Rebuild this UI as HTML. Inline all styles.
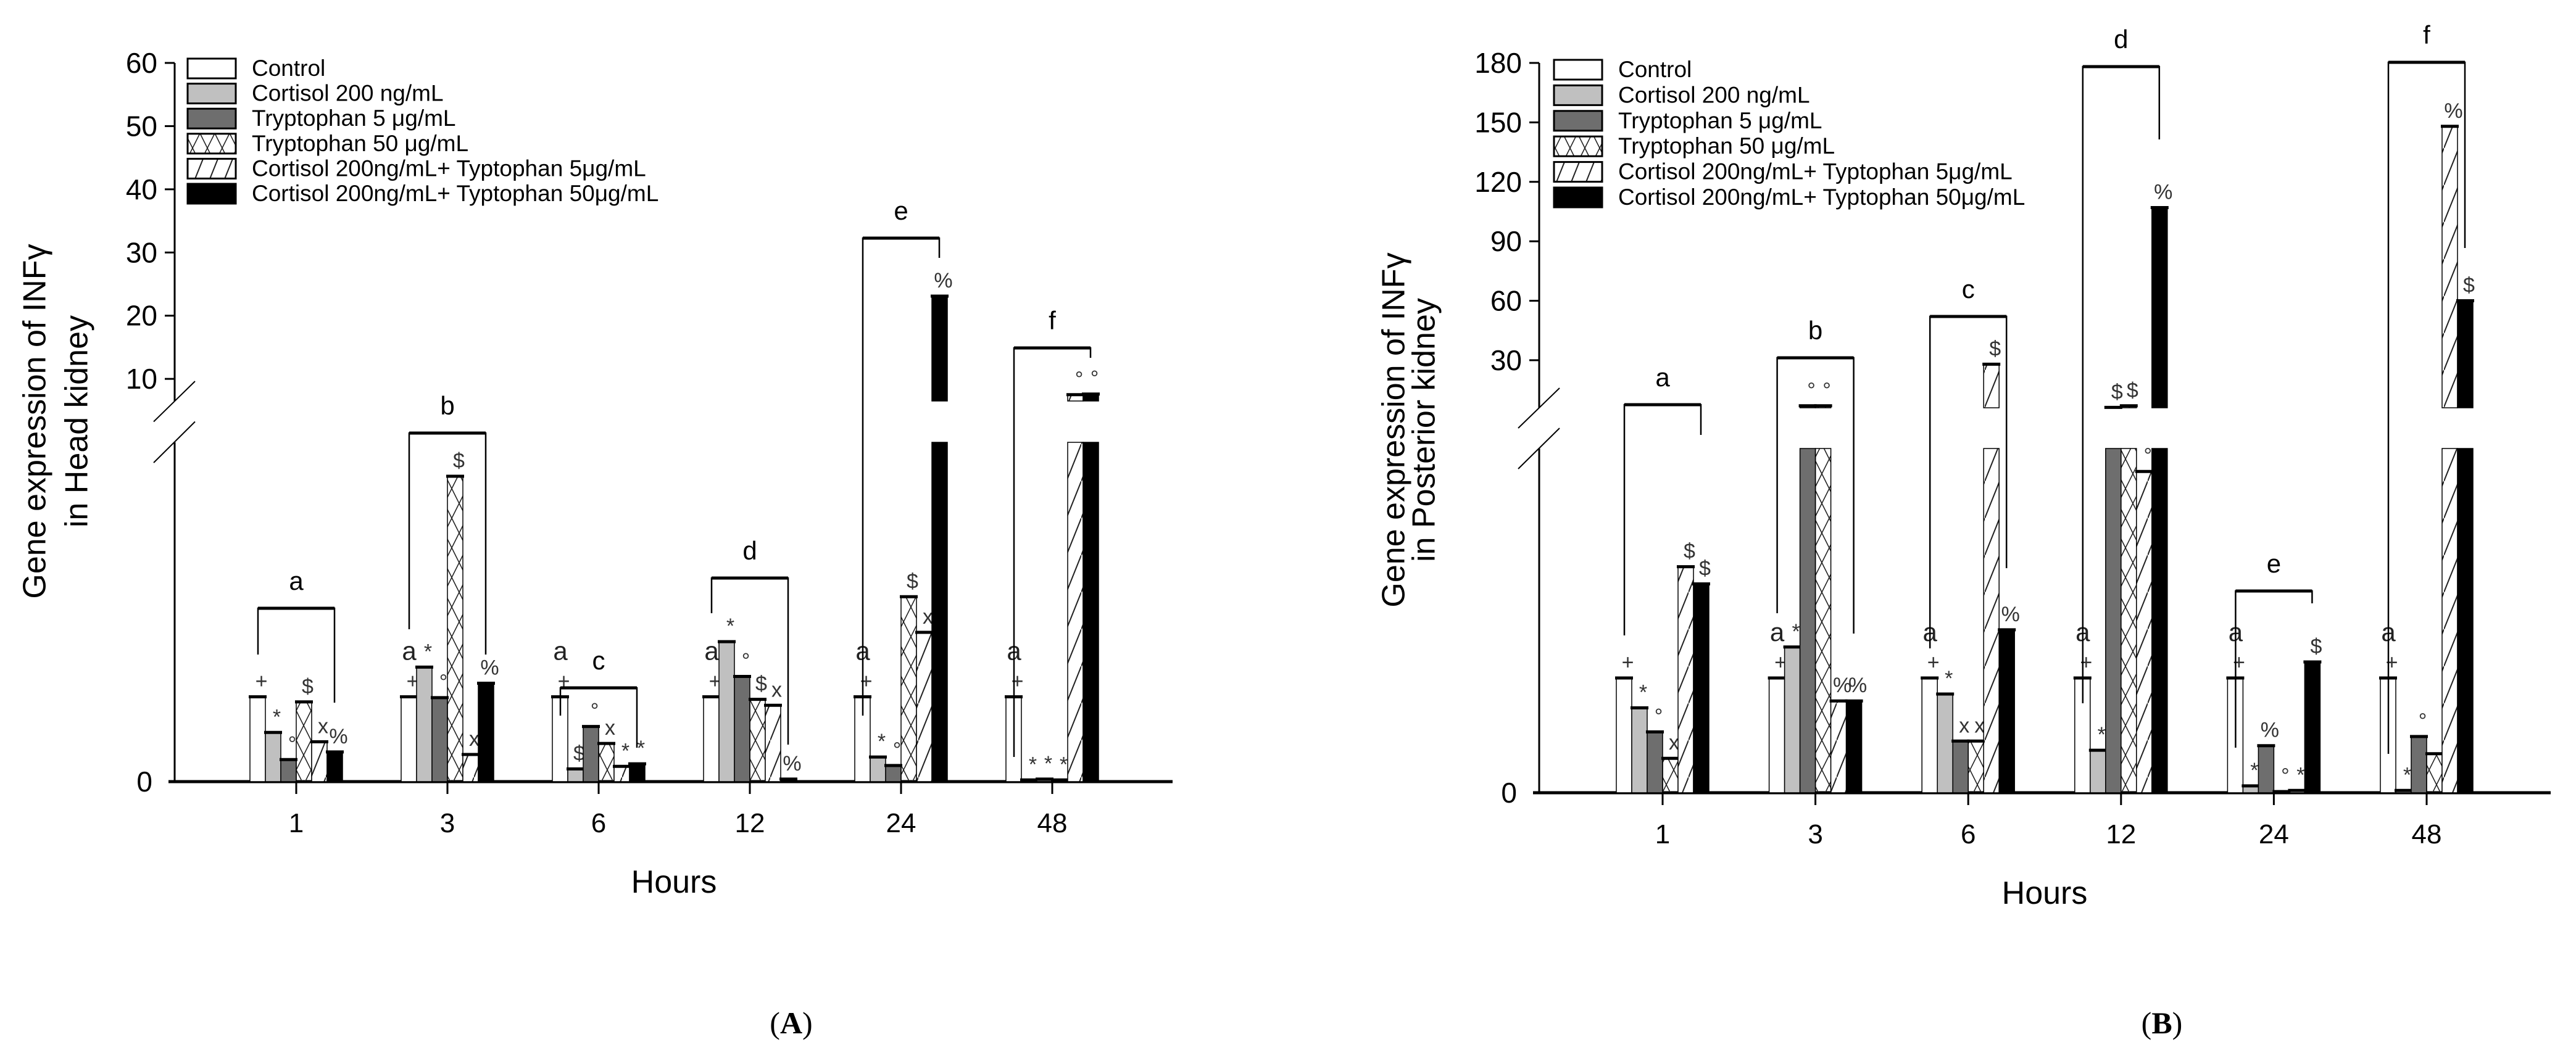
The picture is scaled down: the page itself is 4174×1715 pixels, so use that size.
<!DOCTYPE html>
<html><head><meta charset="utf-8"><style>
html,body{margin:0;padding:0;background:#fff;}
svg{display:block;font-family:"Liberation Sans",Arial,sans-serif;}
</style></head><body>
<svg id="chart" width="4174" height="1715" viewBox="0 0 4174 1715" xmlns="http://www.w3.org/2000/svg">
<defs>
<pattern id="xh" patternUnits="userSpaceOnUse" width="24" height="48">
<path d="M0,0 L24,48 M24,0 L0,48" stroke="#222" stroke-width="1.6" fill="none"/>
</pattern>
<pattern id="dh" patternUnits="userSpaceOnUse" width="24" height="60">
<rect width="24" height="60" fill="#fff"/>
<path d="M0,60 L24,0" stroke="#222" stroke-width="2" fill="none"/>
</pattern>
</defs>
</svg>
<script>
const categories=['1','3','6','12','24','48'];
const seriesNames=['Control','Cortisol 200 ng/mL','Tryptophan 5 \u03bcg/mL','Tryptophan 50 \u03bcg/mL','Cortisol 200ng/mL+ Typtophan 5\u03bcg/mL','Cortisol 200ng/mL+ Typtophan 50\u03bcg/mL'];
// Panel A values (Head kidney)
const aControl=[1,1,1,1,1,1];
const aCortisol=[0.58,1.35,0.15,1.65,0.29,0.02];
const aTrp5=[0.26,0.99,0.65,1.24,0.19,0.03];
const aTrp50=[0.94,3.6,0.45,0.97,2.18,0.02];
const aCT5=[0.47,0.32,0.18,0.9,1.76,7.5];
const aCT50=[0.35,1.16,0.21,0.03,23.1,7.6];
const aTicks=[10,20,30,40,50,60];
// Panel B values (Posterior kidney)
const bControl=[1,1,1,1,1,1];
const bCortisol=[0.74,1.27,0.86,0.37,0.06,0.02];
const bTrp5=[0.53,7,0.45,6.2,0.41,0.49];
const bTrp50=[0.3,7,0.45,7,0.01,0.34];
const bCT5=[1.97,0.8,28,2.8,0.02,148];
const bCT50=[1.82,0.8,1.42,107,1.14,60];
const bTicks=[30,60,90,120,150,180];
// annotation symbols per bar
const aSyms=[['+','*','°','$','x','%'],['+','*','°','$','x','%'],['+','$','°','x','*','*'],['+','*','°','$','x','%'],['+','*','°','$','x','%'],['+','*','*','*','°','°']];
const bSyms=[['+','*','°','x','$','$'],['+','*','°','°','%','%'],['+','*','x','x','$','%'],['+','*','$','$','°','%'],['+','*','%','°','*','$'],['+','*','°','','%','$']];
const groupLetters=['a','b','c','d','e','f'];

const NS='http://www.w3.org/2000/svg';
const svg=document.getElementById('chart');
function el(tag,attrs,parent,txt){const e=document.createElementNS(NS,tag);for(const k in attrs)e.setAttribute(k,attrs[k]);if(txt!==undefined)e.textContent=txt;(parent||svg).appendChild(e);return e;}
const fills=['#fff','#c0c0c0','#6e6e6e','url(#xh)','url(#dh)','#000'];

function drawPanel(P){
  const g=el('g',{});
  
  
  const y=v=> v<=P.lmax ? P.base - v*(P.base-P.ltop)/P.lmax : P.ubot - (v-P.umin)*(P.ubot-P.utop)/(P.umax-P.umin);
  const ax=el('g',{},g);
  
  
  el('line',{x1:P.ax,y1:P.utop,x2:P.ax,y2:P.ubot,stroke:'#000','stroke-width':3},ax);
  el('line',{x1:P.ax,y1:P.ltop,x2:P.ax,y2:P.base,stroke:'#000','stroke-width':3},ax);
  const mid=(P.ubot+P.ltop)/2;
  el('line',{x1:P.ax-34,y1:mid,x2:P.ax+33,y2:P.ubot-32,stroke:'#000','stroke-width':2},ax);
  el('line',{x1:P.ax-34,y1:P.ltop+33,x2:P.ax+33,y2:mid,stroke:'#000','stroke-width':2},ax);
  P.ticks.forEach(t=>{
    const ty=y(t);
    el('line',{x1:P.ax-16,y1:ty,x2:P.ax,y2:ty,stroke:'#000','stroke-width':3},ax);
    const tl=el('text',{x:P.ax-28,y:ty+16,'font-size':46,'text-anchor':'end'},ax,String(t));
    
    
  });
  const z=el('text',{x:P.ax-36,y:P.base+16,'font-size':46,'text-anchor':'end'},ax,'0');
  
  
  const xa=el('line',{x1:P.ax-10,y1:P.base,x2:P.xend,y2:P.base,stroke:'#000','stroke-width':5},g);
  
  
  const t1=el('text',{x:P.t1x,y:P.ty,'font-size':52,'text-anchor':'middle','dominant-baseline':'middle',transform:`rotate(-90 ${P.t1x} ${P.ty})`},g,'Gene expression of INF\u03b3');
  
  
  const t2=el('text',{x:P.t2x,y:P.ty,'font-size':52,'text-anchor':'middle','dominant-baseline':'middle',transform:`rotate(-90 ${P.t2x} ${P.ty})`},g,P.sub);
  
  
  const xt=el('text',{x:P.hx,y:P.base+180,'font-size':52,'text-anchor':'middle'},g,'Hours');
  
  
  const pl=el('text',{x:P.hx+190,y:1675,'font-size':50,'text-anchor':'middle','font-family':'Liberation Serif, serif'},g);
  el('tspan',{},pl,'(');el('tspan',{'font-weight':'bold'},pl,P.label);el('tspan',{},pl,')');
  
  
  const bw=25;
  categories.forEach((c,gi)=>{
    const cx=P.x0+gi*P.step;
    const tk=el('line',{x1:cx,y1:P.base,x2:cx,y2:P.base+20,stroke:'#000','stroke-width':3},g);
    
    
    const cl=el('text',{x:cx,y:P.base+82,'font-size':44,'text-anchor':'middle'},g,c);
    
    
    const tops=[];
    P.series.forEach((arr,si)=>{
      const v=arr[gi];
      const bx=cx-75+si*bw;
      const ty=y(v);
      tops.push(ty);
      const bg=el('g',{},g);
      
      
      if(v<=P.lmax){
        el('rect',{x:bx,y:ty,width:bw,height:P.base-ty,fill:fills[si],stroke:'#000','stroke-width':1.5},bg);
      }else{
        el('rect',{x:bx,y:P.ltop,width:bw,height:P.base-P.ltop,fill:fills[si],stroke:'#000','stroke-width':1.5},bg);
        el('rect',{x:bx,y:ty,width:bw,height:P.ubot-ty,fill:fills[si],stroke:'#000','stroke-width':1.5},bg);
      }
      el('line',{x1:bx-2,y1:ty,x2:bx+bw+2,y2:ty,stroke:'#000','stroke-width':5},bg);
      const s=P.syms[gi][si];
      if(s){const st=el('text',{x:bx+bw/2+6,y:ty-14,'font-size':34,'text-anchor':'middle',fill:'#333'},g,s);
        
        }
    });
    if(gi>0){const at=el('text',{x:cx-62,y:tops[0]-60,'font-size':42,'text-anchor':'middle',fill:'#222'},g,'a');
      
      }
    const b=P.br[gi];
    const lx=cx-62, rx=cx+62;
    const br=el('path',{d:`M${lx},${b[1]} L${lx},${b[0]} L${rx},${b[0]} L${rx},${b[2]}`,fill:'none',stroke:'#000','stroke-width':2.5},g);
    
    
    el('line',{x1:lx,y1:b[0],x2:rx,y2:b[0],stroke:'#000','stroke-width':5},g);
    const lt=el('text',{x:cx,y:b[0]-30,'font-size':42,'text-anchor':'middle'},g,groupLetters[gi]);
    
    
  });
  const lg=el('g',{},g);
  
  
  seriesNames.forEach((n,i)=>{
    const ly=P.ly+i*P.lstep;
    const e=el('g',{},lg);
    
    
    el('rect',{x:P.lx,y:ly-15,width:78,height:32,fill:fills[i],stroke:'#000','stroke-width':3},e);
    el('text',{x:P.lx+104,y:ly+13,'font-size':37},e,n);
  });
}

drawPanel({name:'panel-a-head-kidney',label:'A',sub:'in Head kidney',series:[aControl,aCortisol,aTrp5,aTrp50,aCT5,aCT50],ticks:aTicks,syms:aSyms,
  ax:283,xend:1900,base:1267,ltop:717,lmax:4,ubot:650,utop:102,umin:6.5,umax:60,x0:480,step:245,
  t1x:60,t2x:128,ty:683,hx:1092,lx:304,ly:110,lstep:40.6,
  br:[[986,1061,1139],[702,1020,1061],[1115,1160,1212],[937,994,1207],[386,1160,418],[564,1227,580]]});
drawPanel({name:'panel-b-posterior-kidney',label:'B',sub:'in Posterior kidney',series:[bControl,bCortisol,bTrp5,bTrp50,bCT5,bCT50],ticks:bTicks,syms:bSyms,
  ax:2494,xend:4133,base:1285,ltop:727,lmax:3,ubot:661,utop:102,umin:6,umax:180,x0:2694,step:247.6,
  t1x:2262,t2x:2311,ty:697,hx:3313,lx:2518,ly:112,lstep:41.4,
  br:[[656,1030,705],[580,994,1027],[513,1051,921],[108,1140,226],[958,1212,978],[101,1222,402]]});
</script>
</body></html>
